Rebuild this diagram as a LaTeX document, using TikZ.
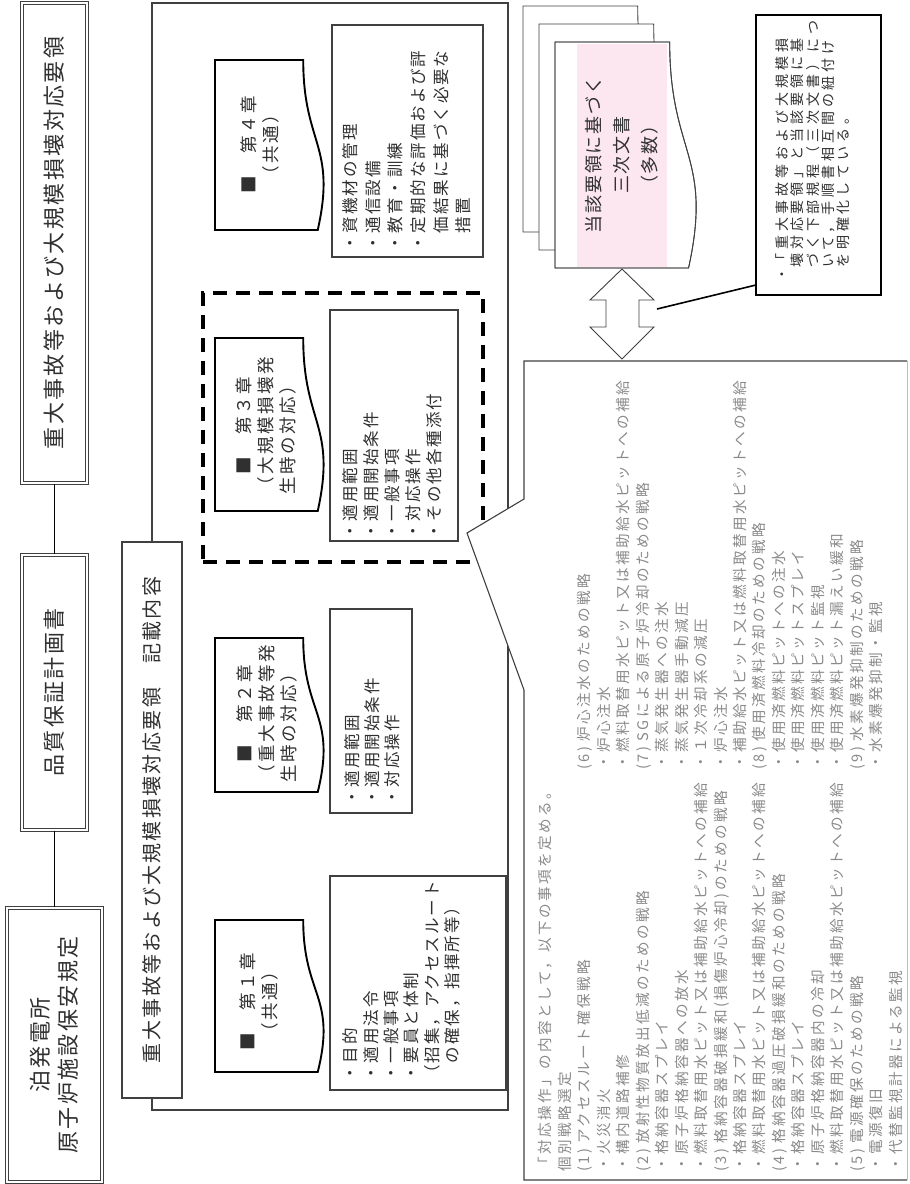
\documentclass[tikz,border=0pt]{standalone}
\usepackage{fontspec}
\usepackage{graphicx}
\newfontfamily\jp{Noto Sans CJK JP}
\definecolor{ln}{HTML}{404040}
\definecolor{tx}{HTML}{303030}
\definecolor{tg}{HTML}{8A8A8A}
\definecolor{pk}{HTML}{FCE6F0}
\newcommand\JF[3]{\jp\fontsize{#1}{#2}\selectfont\addfontfeature{LetterSpace=#3}}
\newcommand\rot[1]{\rotatebox{90}{#1}}
\newcommand\Ccol[1]{\vbox{\lineskiplimit=-\maxdimen\halign{\hfil##\hfil\cr#1\crcr}}}
\newcommand\Lcol[1]{\vbox{\lineskiplimit=-\maxdimen\halign{##\hfil\cr#1\crcr}}}
\newcommand\Hcol[2]{\vbox{\lineskiplimit=-\maxdimen\halign{##\hfil\cr\omit\hfil#1\hfil\cr#2\crcr}}}
\newcommand\Ncol[1]{\vbox{\lineskiplimit=-\maxdimen\halign{##\hfil&##\hfil\cr#1\crcr}}}
\newcommand\docshape[5]{\path[#1] (#2,#3) -- ({#2+0.802*#5},#3) .. controls ({#2+0.802*#5},{(#3+#4)/2}) and ({#2+1.107*#5},{(#3+#4)/2}) .. ({#2+0.934*#5},#4) -- (#2,#4) -- cycle;}
\begin{document}
\begin{tikzpicture}[x=1pt,y=-1pt,
  dbl/.style={draw=ln, line width=1.3pt, double=white, double distance=1.6pt, fill=white, inner sep=0pt, text=tx},
  plainbox/.style={draw=ln, line width=1.1pt, fill=white, inner sep=0pt},
  hdr/.style={draw=black, line width=1.9pt, fill=white},
  docst/.style={draw=ln, line width=0.9pt, fill=white},
  txt/.style={inner sep=0pt, text=tx},
  gtxt/.style={inner sep=0pt, text=tg},
  conn/.style={draw=black, line width=1.6pt},
]
\useasboundingbox (0,0) rectangle (910,1184);
% title boxes
\node[dbl, minimum width=65pt, minimum height=480pt] (box1) at (54.5,243) {\rot{\JF{22}{26}{11}重大事故等および大規模損壊対応要領}};
\node[dbl, minimum width=65pt, minimum height=275pt] (box2) at (54.5,692.5) {\rot{\JF{22}{26}{11}品質保証計画書}};
\node[dbl, minimum width=95pt, minimum height=274pt] (box3) at (54.5,1045) {\rot{\JF{22}{28}{11}\Ccol{泊発電所\cr 原子炉施設保安規定}}};
\draw[conn] (box1.south) -- (box2.north);
\draw[conn] (box2.south) -- (box3.north);
% frame
\node[draw=ln, line width=1.1pt, minimum width=356pt, minimum height=1107pt, inner sep=0pt] (frame) at (330,556.5) {};
\node[plainbox, minimum width=60pt, minimum height=556pt, text=tx] (box4) at (152,820) {\rot{\JF{20}{24}{11}重大事故等および大規模損壊対応要領　記載内容}};
% chapter 3 dashed frame
\node[draw=black, line width=3.2pt, dash pattern=on 14pt off 9pt, minimum width=280pt, minimum height=269pt, inner sep=0pt] (dash3) at (343,427.5) {};
% chapter headers
\docshape{hdr}{215}{920}{1072}{110}
\node[txt] (h1) at (259,1002) {\rot{\JF{17.5}{22}{14}\Ccol{■　第１章\cr（共通）}}};
\docshape{hdr}{215}{638}{792}{110}
\node[txt] (h2) at (267,714) {\rot{\JF{17.5}{22}{14}\Hcol{■　第２章}{（重大事故等発\cr 生時の対応）}}};
\docshape{hdr}{215}{338}{511}{110}
\node[txt] (h3) at (266,426) {\rot{\JF{17.5}{22}{14}\Hcol{■　第３章}{（大規模損壊発\cr 生時の対応）}}};
\docshape{hdr}{215}{60}{230}{110}
\node[txt] (h4) at (260,145) {\rot{\JF{17.5}{22}{14}\Ccol{■　第４章\cr（共通）}}};
% content boxes
\node[plainbox, minimum width=176pt, minimum height=214pt] (c1) at (418,983) {};
\node[txt, anchor=south west] (t1) at (342.6,1082) {\rot{\JF{16.5}{20.4}{12}\Lcol{・目的\cr・適用法令\cr・一般事項\cr・要員と体制\cr（招集，アクセスルート\cr　の確保，指揮所等）}}};
\node[plainbox, minimum width=82pt, minimum height=204pt] (c2) at (371,711) {};
\node[txt, anchor=south west] (t2) at (344.6,806) {\rot{\JF{16.5}{20}{12}\Lcol{・適用範囲\cr・適用開始条件\cr・対応操作}}};
\node[plainbox, minimum width=128pt, minimum height=231pt] (c3) at (394,425.5) {};
\node[txt, anchor=south west] (t3) at (342.6,540) {\rot{\JF{16.5}{21}{12}\Lcol{・適用範囲\cr・適用開始条件\cr・一般事項\cr・対応操作\cr・その他各種添付}}};
\node[plainbox, minimum width=151pt, minimum height=232pt] (c4) at (407.5,141) {};
\node[txt, anchor=south west] (t4) at (342.6,252) {\rot{\JF{16.5}{22.6}{12}\Lcol{・資機材の管理\cr・通信設備\cr・教育・訓練\cr・定期的な評価および評\cr　価結果に基づく必要な\cr　措置}}};
% stacked documents
\docshape{docst}{523}{6}{232}{143}
\docshape{docst}{539}{24}{250}{143}
\docshape{docst}{555}{42}{268}{143}
\fill[pk] (577,43.5) rectangle (667,266.5);
\docshape{draw=ln, line width=0.9pt}{555}{42}{268}{143}
\node[txt] (doc) at (622,155) {\rot{\JF{18}{28}{11}\Ccol{当該要領に基づく\cr 三次文書\cr（多数）}}};
% double arrow
\draw[draw=ln, line width=0.9pt, fill=white] (622,269) -- (654,300) -- (639,300) -- (639,327) -- (654,327) -- (622,359) -- (590,327) -- (606,327) -- (606,300) -- (590,300) -- cycle;
% note
\node[draw=black, line width=2.4pt, fill=white, minimum width=125pt, minimum height=280pt, inner sep=0pt] (note) at (818.5,155) {};
\node[txt, anchor=south west] (notet) at (775.7,282) {\rot{\JF{14}{15.2}{28}\Ncol{・&「重大事故等および大規模損\cr&壊対応要領」と当該要領に基\cr&づく下部規程（三次文書）につ\cr&いて，手順書相互間の紐付け\cr&を明確化している。}}};
\coordinate (ca) at (657,309);
\coordinate (cb) at (756,285);
\draw[conn] (ca) -- (cb);
% callout
\fill[white] (524,361) -- (907,361) -- (907,1180) -- (524,1180) -- (524,690) -- (467,533) -- (524,499) -- cycle;
\draw[draw=ln, line width=1.1pt, line join=miter] (907,1180) -- (524,1180) -- (524,690) -- (467,533) -- (524,499) -- (524,361) -- (907,361);
\draw[draw=black!25, line width=1pt] (907,361) -- (907,1180);
\node[gtxt, anchor=south west] (colL) at (538.4,1172) {\rot{\JF{14.6}{19.45}{16.4}\Lcol{「対応操作」の内容として，以下の事項を定める。\cr 個別戦略選定\cr(1) アクセスルート確保戦略\cr・火災消火\cr・構内道路補修\cr(2) 放射性物質放出低減のための戦略\cr・格納容器スプレイ\cr・原子炉格納容器への放水\cr・燃料取替用水ピット又は補助給水ピットへの補給\cr(3) 格納容器破損緩和(損傷炉心冷却)のための戦略\cr・格納容器スプレイ\cr・燃料取替用水ピット又は補助給水ピットへの補給\cr(4) 格納容器過圧破損緩和のための戦略\cr・格納容器スプレイ\cr・原子炉格納容器内の冷却\cr・燃料取替用水ピット又は補助給水ピットへの補給\cr(5) 電源確保のための戦略\cr・電源復旧\cr・代替監視計器による監視}}};
\node[gtxt, anchor=south west] (colR) at (577.4,770) {\rot{\JF{14.6}{19.45}{16.4}\Lcol{(6) 炉心注水のための戦略\cr・炉心注水\cr・燃料取替用水ピット又は補助給水ピットへの補給\cr(7) SGによる原子炉冷却のための戦略\cr・蒸気発生器への注水\cr・蒸気発生器手動減圧\cr・１次冷却系の減圧\cr・炉心注水\cr・補助給水ピット又は燃料取替用水ピットへの補給\cr(8) 使用済燃料冷却のための戦略\cr・使用済燃料ピットへの注水\cr・使用済燃料ピットスプレイ\cr・使用済燃料ピット監視\cr・使用済燃料ピット漏えい緩和\cr(9) 水素爆発抑制のための戦略\cr・水素爆発抑制・監視}}};
\end{tikzpicture}
\end{document}
